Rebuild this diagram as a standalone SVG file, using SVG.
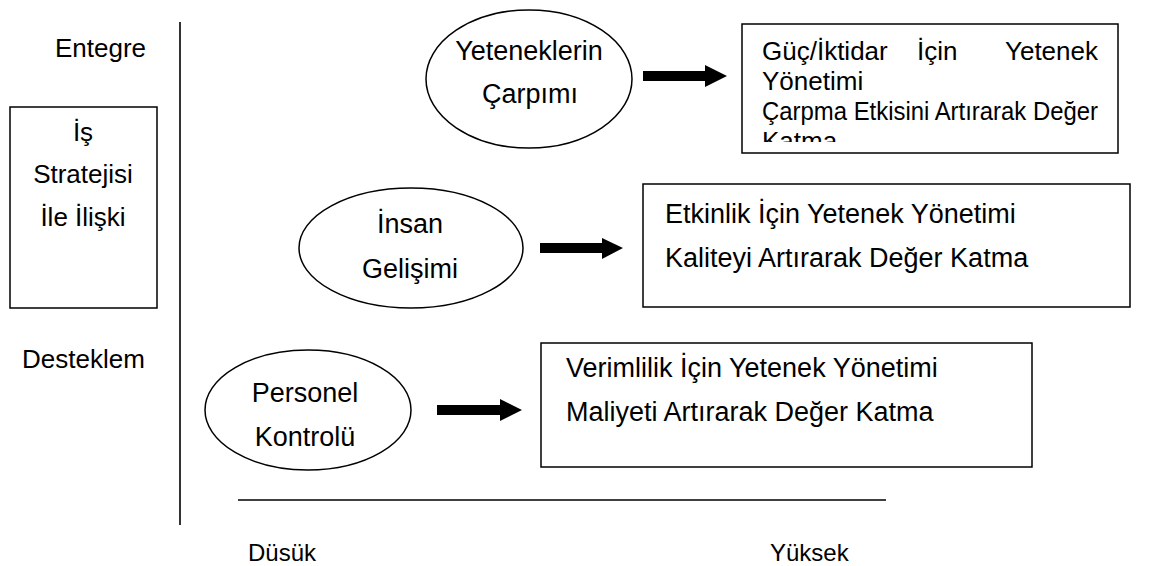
<svg xmlns="http://www.w3.org/2000/svg" width="1174" height="566" viewBox="0 0 1174 566">
<style>
text{font-family:"Liberation Sans",Arial,sans-serif;font-size:26px;fill:#000}
.b{font-size:27px}
.s{font-size:24px}
.c{text-anchor:middle}
.e{text-anchor:end}
.shape{fill:#fff;stroke:#000;stroke-width:1.5}
.axis{stroke:#000;stroke-width:1.6;fill:none}
.arrow{fill:#000;stroke:none}
</style>
<defs>
<clipPath id="clipTop"><rect x="742" y="24" width="376" height="118"/></clipPath>
</defs>
<rect width="1174" height="566" fill="#fff"/>
<g id="axes">
<line class="axis" x1="180" y1="22" x2="180" y2="525"/>
<line class="axis" x1="238" y1="500" x2="886" y2="500"/>
<text x="55" y="57">Entegre</text>
<text x="22" y="368">Desteklem</text>
<text class="s" x="248" y="561">Düsük</text>
<text class="s" x="770" y="561">Yüksek</text>
</g>
<g id="strategy">
<rect class="shape" x="10" y="107" width="147" height="201"/>
<text class="c" x="83" y="141">İş</text>
<text class="c" x="83" y="183">Stratejisi</text>
<text class="c" x="83" y="226">İle İlişki</text>
</g>
<g id="node-carpim">
<ellipse class="shape" cx="529" cy="79" rx="103" ry="69"/>
<text class="c b" x="529" y="60">Yeteneklerin</text>
<text class="c b" x="530" y="103">Çarpımı</text>
</g>
<g id="node-insan">
<ellipse class="shape" cx="411" cy="248" rx="112" ry="60"/>
<text class="c b" x="410" y="233">İnsan</text>
<text class="c b" x="410" y="278">Gelişimi</text>
</g>
<g id="node-personel">
<ellipse class="shape" cx="308" cy="410" rx="103" ry="60"/>
<text class="c b" x="305" y="402">Personel</text>
<text class="c b" x="305" y="446">Kontrolü</text>
</g>
<g id="box-guc">
<rect class="shape" x="742" y="24" width="376" height="129"/>
<g clip-path="url(#clipTop)">
<text x="762" y="60">Güç/İktidar</text>
<text x="917" y="60">İçin</text>
<text class="e" x="1098" y="60">Yetenek</text>
<text x="762" y="90">Yönetimi</text>
<text x="762" y="120" textLength="336" lengthAdjust="spacingAndGlyphs">Çarpma Etkisini Artırarak Değer</text>
<text x="762" y="150">Katma</text>
</g>
</g>
<g id="box-etkinlik">
<rect class="shape" x="643" y="184" width="487" height="123"/>
<text class="b" x="665" y="223">Etkinlik İçin Yetenek Yönetimi</text>
<text class="b" x="665" y="267">Kaliteyi Artırarak Değer Katma</text>
</g>
<g id="box-verimlilik">
<rect class="shape" x="541" y="343" width="491" height="124"/>
<text class="b" x="566" y="377">Verimlilik İçin Yetenek Yönetimi</text>
<text class="b" x="566" y="421">Maliyeti Artırarak Değer Katma</text>
</g>
<g id="connectors">
<path class="arrow" d="M643,71 H705 V65 L727,76 L705,87 V81 H643 Z"/>
<path class="arrow" d="M540,243 H602 V238 L623,248 L602,259 V253 H540 Z"/>
<path class="arrow" d="M437,405 H500 V399 L522,410 L500,421 V415 H437 Z"/>
</g>
</svg>
